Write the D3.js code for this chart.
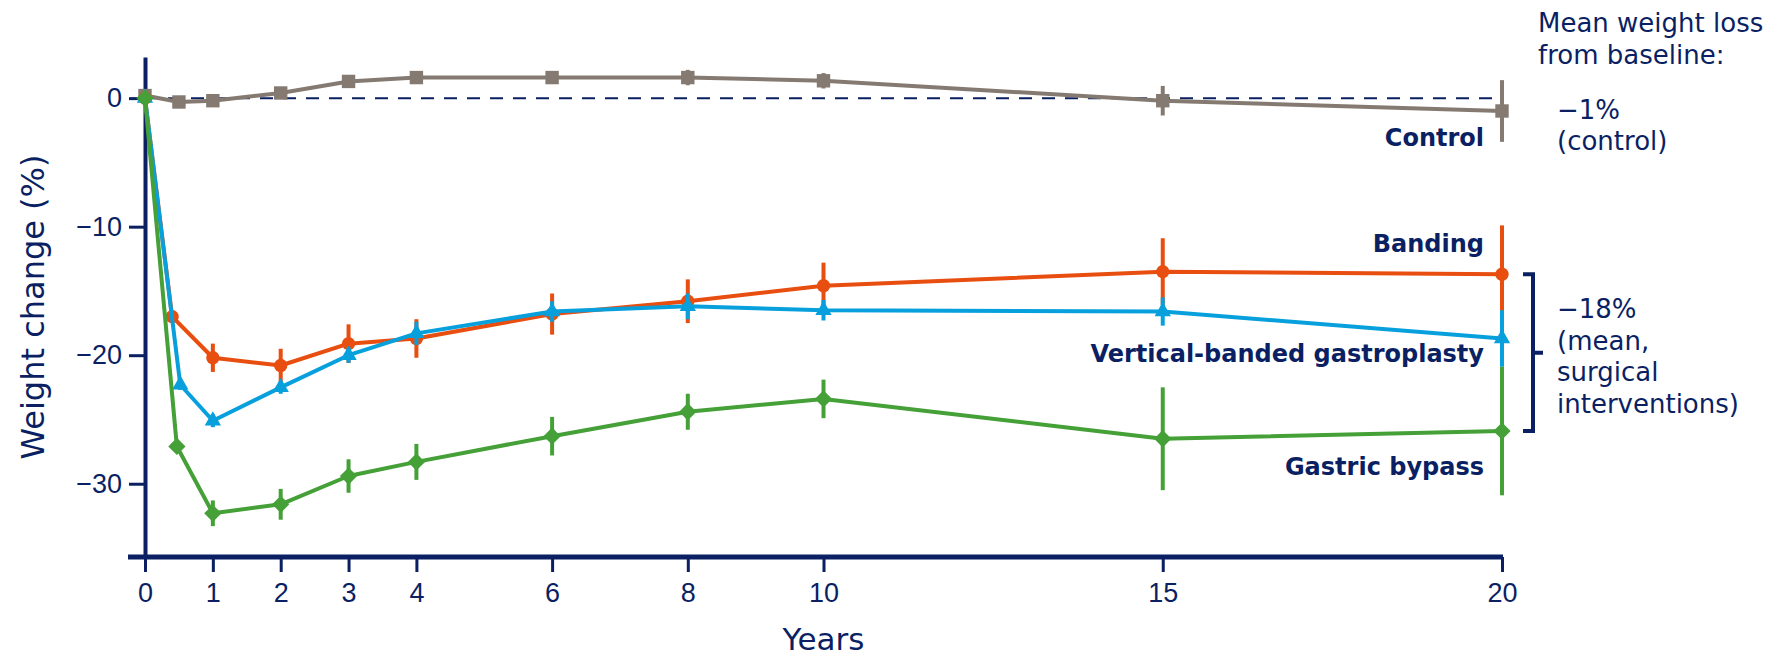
<!DOCTYPE html>
<html>
<head>
<meta charset="utf-8">
<script src="https://cdn.jsdelivr.net/npm/d3@7"></script>
<style>
  body { margin: 0; background: #fff; }
  svg { display: block; font-family: "DejaVu Sans", Verdana, sans-serif; }
</style>
</head>
<body>
<svg id="chart" width="1783" height="657"></svg>
<script>
// values (weight change %, +/- error)
var controlYears = [0, 0.5, 1, 2, 3, 4, 6, 8, 10, 15, 20];
var controlMean  = [0.2, -0.3, -0.2, 0.4, 1.3, 1.6, 1.6, 1.6, 1.35, -0.2, -1.0];
var controlErr   = [0.3, 0.3, 0.3, 0.3, 0.5, 0.5, 0.5, 0.6, 0.6, 1.15, 2.4];

var bandingYears = [0, 0.4, 1, 2, 3, 4, 6, 8, 10, 15, 20];
var bandingMean  = [0, -17.0, -20.2, -20.8, -19.1, -18.7, -16.8, -15.8, -14.6, -13.5, -13.7];
var bandingErr   = [0, 0.5, 1.1, 1.3, 1.5, 1.5, 1.6, 1.7, 1.8, 2.6, 3.8];

var vbgYears = [0, 0.52, 1, 2, 3, 4, 6, 8, 10, 15, 20];
var vbgMean  = [0, -22.3, -25.1, -22.5, -20.0, -18.3, -16.6, -16.2, -16.5, -16.6, -18.7];
var vbgErr   = [0, 0.4, 0.5, 0.5, 0.6, 0.9, 0.8, 1.0, 0.8, 1.1, 2.2];

var bypassYears = [0, 0.47, 1, 2, 3, 4, 6, 8, 10, 15, 20];
var bypassMean  = [0, -27.1, -32.3, -31.6, -29.4, -28.3, -26.3, -24.4, -23.4, -26.5, -25.9];
var bypassErr   = [0, 0.4, 1.0, 1.2, 1.3, 1.4, 1.5, 1.4, 1.5, 4.0, 5.0];

var xTicks = [0, 1, 2, 3, 4, 6, 8, 10, 15, 20];
var yTicks = [0, -10, -20, -30];

var seriesLabels = ["Control", "Banding", "Vertical-banded gastroplasty", "Gastric bypass"];
var summaryHead = ["Mean weight loss", "from baseline:"];
var summaryControl = ["\u22121%", "(control)"];
var summarySurgery = ["\u221218%", "(mean,", "surgical", "interventions)"];

var navy = "#0b1f63";

function zip(xs, ys, es) {
  return xs.map(function (d, i) { return { x: d, y: ys[i], e: es[i] }; });
}

var series = [
  { name: seriesLabels[0], color: "#857a71", sym: d3.symbolSquare,   size: 180, pts: zip(controlYears, controlMean, controlErr), labelY: 137 },
  { name: seriesLabels[1], color: "#e84e0f", sym: d3.symbolCircle,   size: 140, pts: zip(bandingYears, bandingMean, bandingErr), labelY: 243 },
  { name: seriesLabels[2], color: "#07a0dc", sym: d3.symbolTriangle, size: 115, pts: zip(vbgYears, vbgMean, vbgErr), labelY: 353 },
  { name: seriesLabels[3], color: "#44a037", sym: d3.symbolDiamond2, size: 190, pts: zip(bypassYears, bypassMean, bypassErr), labelY: 466 }
];

var svg = d3.select("#chart");

var x = d3.scaleLinear().domain([0, 20]).range([145, 1502]);
var y = d3.scaleLinear().domain([-35.7, 3.2]).range([557, 57]);

var fmt = function (d) { return d < 0 ? "\u2212" + Math.abs(d) : d; };

// zero reference line
svg.append("line")
  .attr("x1", x(0)).attr("x2", x(20))
  .attr("y1", y(0)).attr("y2", y(0))
  .attr("stroke", navy).attr("stroke-width", 2)
  .attr("stroke-dasharray", "13,10");

// y axis
var yAxis = svg.append("g")
  .attr("transform", "translate(" + x(0) + ",0)")
  .call(d3.axisLeft(y).tickValues(yTicks).tickFormat(fmt).tickSize(16).tickPadding(7).tickSizeOuter(0));
yAxis.select(".domain").attr("stroke", navy).attr("stroke-width", 4);
yAxis.selectAll(".tick line").attr("stroke", navy).attr("stroke-width", 3);
yAxis.selectAll(".tick text").attr("fill", navy).style("font-size", "27px");

// x axis
var xAxis = svg.append("g")
  .attr("transform", "translate(0," + y(-35.7) + ")")
  .call(d3.axisBottom(x).tickValues(xTicks).tickSize(15).tickPadding(11).tickSizeOuter(0));
xAxis.select(".domain").remove();
xAxis.append("line")
  .attr("x1", x(0) - 17).attr("x2", x(20) + 1)
  .attr("stroke", navy).attr("stroke-width", 5);
xAxis.selectAll(".tick line").attr("stroke", navy).attr("stroke-width", 3);
xAxis.selectAll(".tick text").attr("fill", navy).style("font-size", "27px");

// axis titles
svg.append("text")
  .attr("x", (x(0) + x(20)) / 2).attr("y", 650)
  .attr("text-anchor", "middle").attr("fill", navy)
  .style("font-size", "31px").text("Years");

svg.append("text")
  .attr("transform", "translate(44," + (y(-35.7) + y(3.2)) / 2 + ") rotate(-90)")
  .attr("text-anchor", "middle").attr("fill", navy)
  .style("font-size", "32px").text("Weight change (%)");

// series
var line = d3.line().x(function (d) { return x(d.x); }).y(function (d) { return y(d.y); });

series.forEach(function (s) {
  var g = svg.append("g");
  g.append("path").datum(s.pts)
    .attr("d", line).attr("fill", "none")
    .attr("stroke", s.color).attr("stroke-width", 4).attr("stroke-linejoin", "round");
  g.selectAll(".err").data(s.pts.filter(function (d) { return d.e > 0; }))
    .enter().append("line")
    .attr("x1", function (d) { return x(d.x); }).attr("x2", function (d) { return x(d.x); })
    .attr("y1", function (d) { return y(d.y + d.e); }).attr("y2", function (d) { return y(d.y - d.e); })
    .attr("stroke", s.color).attr("stroke-width", 4);
  g.selectAll(".mark").data(s.pts)
    .enter().append("path")
    .attr("d", d3.symbol().type(s.sym).size(s.size))
    .attr("transform", function (d) { return "translate(" + x(d.x) + "," + y(d.y) + ")"; })
    .attr("fill", s.color);
});

// series labels
svg.selectAll(".slabel").data(series).enter().append("text")
  .attr("x", 1484).attr("y", function (d) { return d.labelY + 9; })
  .attr("text-anchor", "end").attr("fill", navy)
  .style("font-size", "24px").style("font-weight", "bold")
  .text(function (d) { return d.name; });

// right-hand summary
function block(lines, x0, y0, step) {
  svg.append("g").selectAll("text").data(lines).enter().append("text")
    .attr("x", x0).attr("y", function (d, i) { return y0 + i * step; })
    .attr("fill", navy).style("font-size", "26px")
    .text(function (d) { return d; });
}
block(summaryHead, 1538, 32, 32);
block(summaryControl, 1557, 119, 31);
block(summarySurgery, 1557, 318, 31.5);

// bracket for surgical interventions
var yTop = y(bandingMean[bandingMean.length - 1]);
var yBot = y(bypassMean[bypassMean.length - 1]);
svg.append("path")
  .attr("d", "M1523," + yTop + "H1533V" + yBot + "H1523M1533," + (yTop + yBot) / 2 + "H1543")
  .attr("fill", "none").attr("stroke", navy).attr("stroke-width", 4);
</script>
</body>
</html>
